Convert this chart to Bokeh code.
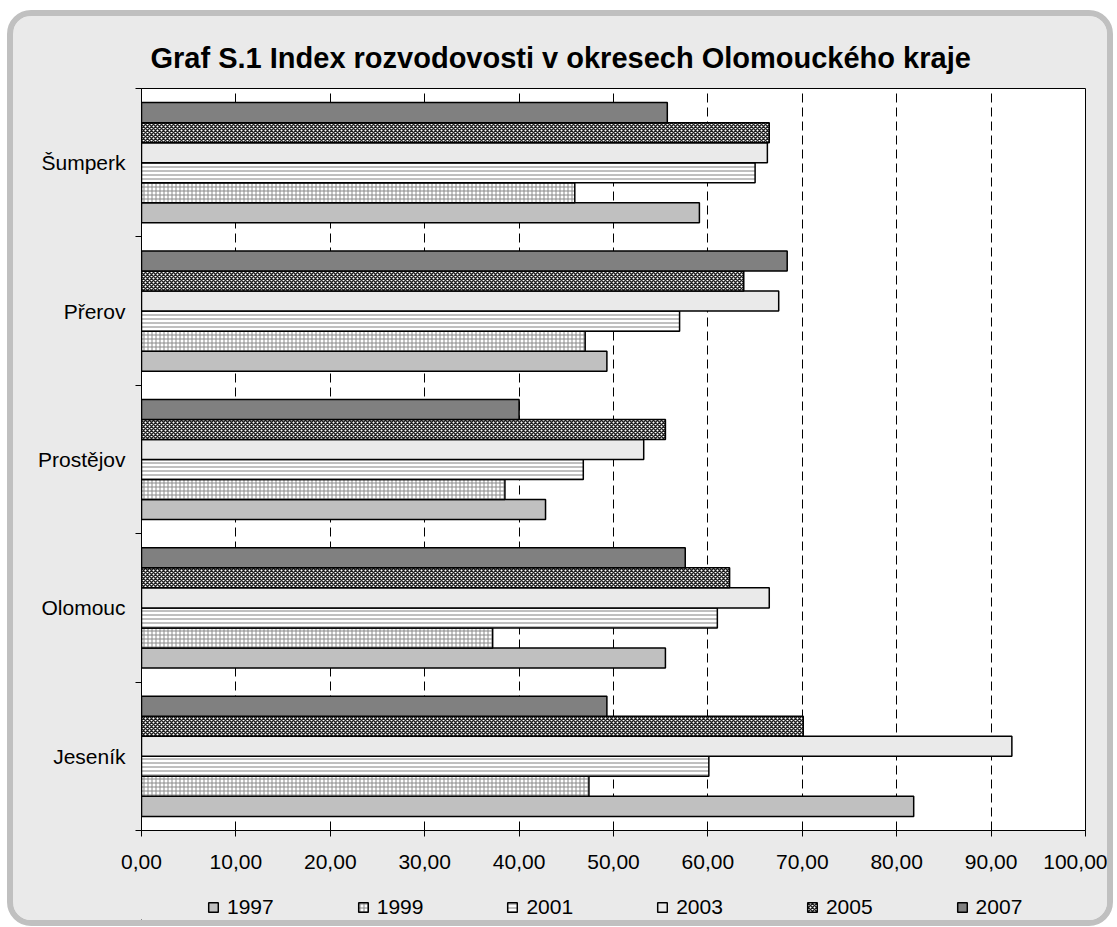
from bokeh.plotting import figure
from bokeh.layouts import column
from bokeh.models import Range1d, FixedTicker, Legend, LegendItem, ColumnDataSource
from bokeh.embed import file_html
from bokeh.resources import INLINE

# ---------------- data ----------------
districts = ["Šumperk", "Přerov", "Prostějov", "Olomouc", "Jeseník"]   # top to bottom
years = ["1997", "1999", "2001", "2003", "2005", "2007"]
v1997 = [59.1, 49.3, 42.8, 55.5, 81.8]
v1999 = [45.9, 47.0, 38.5, 37.2, 47.4]
v2001 = [65.0, 57.0, 46.8, 61.0, 60.1]
v2003 = [66.3, 67.5, 53.2, 66.5, 92.2]
v2005 = [66.5, 63.8, 55.5, 62.3, 70.1]
v2007 = [55.7, 68.4, 40.0, 57.6, 49.3]
series = [v1997, v1999, v2001, v2003, v2005, v2007]
x_ticks = [0, 10, 20, 30, 40, 50, 60, 70, 80, 90, 100]
x_tick_labels = ["0,00", "10,00", "20,00", "30,00", "40,00", "50,00",
                 "60,00", "70,00", "80,00", "90,00", "100,00"]
title_text = "Graf S.1 Index rozvodovosti v okresech Olomouckého kraje"

# ---------------- styles ----------------
styles = [
    dict(fill_color="#c0c0c0"),
    dict(fill_color="white", hatch_pattern="cross", hatch_color="#8a8a8a",
         hatch_scale=4, hatch_weight=1),
    dict(fill_color="white", hatch_pattern="horizontal_line", hatch_color="#808080",
         hatch_scale=4, hatch_weight=1),
    dict(fill_color="#eaeaea"),
    dict(fill_color="white", hatch_pattern="diagonal_cross", hatch_color="#202020",
         hatch_scale=4, hatch_weight=1.5),
    dict(fill_color="#808080"),
]

FONT = "Liberation Sans"
PANEL = "#eaeaea"

p = figure(frame_width=944, frame_height=742,
           x_range=Range1d(0, 100), y_range=Range1d(0, len(districts)),
           output_backend="svg", toolbar_location=None,
           min_border_left=128, min_border_right=22, min_border_top=72, min_border_bottom=50,
           background_fill_color="white", border_fill_color=PANEL,
           outline_line_color="black", outline_line_width=1, title=title_text)

# bars
n = len(districts)
bar_h = 0.135
for j, (yr, vals) in enumerate(zip(years, series)):
    ys = [n - 0.5 - k + (j - 2.5) * bar_h for k in range(n)]
    src = ColumnDataSource(dict(y=ys, right=vals))
    p.hbar(y="y", right="right", left=0, height=bar_h, source=src,
           line_color="black", line_width=1.5, **styles[j])

# title
p.title.text_font = FONT
p.title.text_font_size = "29px"
p.title.text_font_style = "bold"
p.title.align = "left"
p.title.offset = 9
p.title.standoff = 29
p.title.text_color = "black"

# x axis
p.xaxis.ticker = FixedTicker(ticks=x_ticks)
p.xaxis.major_label_overrides = {t: lab for t, lab in zip(x_ticks, x_tick_labels)}
p.xaxis.major_label_text_font = FONT
p.xaxis.major_label_text_font_size = "21px"
p.xaxis.major_label_text_color = "black"
p.xaxis.major_tick_out = 6
p.xaxis.major_tick_in = 0
p.xaxis.major_tick_line_color = "black"
p.xaxis.axis_line_color = "black"
p.xaxis.major_label_standoff = 18

# y axis: labels at category centres, ticks at boundaries
centers = [n - 0.5 - k for k in range(n)]
p.yaxis.ticker = FixedTicker(ticks=centers, minor_ticks=list(range(n + 1)))
p.yaxis.major_label_overrides = {c: d for c, d in zip(centers, districts)}
p.yaxis.major_label_text_font = FONT
p.yaxis.major_label_text_font_size = "21px"
p.yaxis.major_label_text_color = "black"
p.yaxis.major_tick_line_color = None
p.yaxis.major_tick_out = 0
p.yaxis.major_tick_in = 0
p.yaxis.minor_tick_line_color = "black"
p.yaxis.minor_tick_out = 6
p.yaxis.minor_tick_in = 0
p.yaxis.axis_line_color = "black"
p.yaxis.major_label_standoff = 10

# grid
p.xgrid.grid_line_color = "black"
p.xgrid.grid_line_dash = "9 5"
p.xgrid.grid_line_width = 1
p.ygrid.visible = False

# ---------------- legend strip ----------------
p2 = figure(width=1094, height=40, x_range=Range1d(0, 1), y_range=Range1d(0, 1),
            output_backend="svg", toolbar_location=None,
            x_axis_type=None, y_axis_type=None, min_border=0,
            background_fill_color=PANEL, border_fill_color=PANEL,
            outline_line_color=None, outline_line_alpha=0)
legend_renderers = []
for j, yr in enumerate(years):
    # swatch-only renderer: its (empty-width) bar lies far outside the visible ranges
    r = p2.hbar(y=[-5], left=[-5], right=[-5], height=0.1,
                line_color="black", line_width=1.5, **styles[j])
    legend_renderers.append(r)
legend = Legend(items=[LegendItem(label=yr, renderers=[r])
                       for yr, r in zip(years, legend_renderers)],
                orientation="horizontal", location=(66, 1),
                label_text_font=FONT, label_text_font_size="21px", label_text_color="black",
                glyph_width=12, glyph_height=12, label_standoff=8, spacing=83,
                padding=0, margin=0, background_fill_alpha=0, border_line_color=None,
                label_height=12)
p2.add_layout(legend)

layout = column(p, p2, spacing=0)
layout.styles = {"border": "6px solid #c0c0c0", "border-radius": "24px", "overflow": "hidden",
                 "margin-left": "7px", "margin-top": "10px", "background-color": PANEL,
                 "box-sizing": "content-box"}

open("out.html", "w").write(file_html(layout, INLINE))
